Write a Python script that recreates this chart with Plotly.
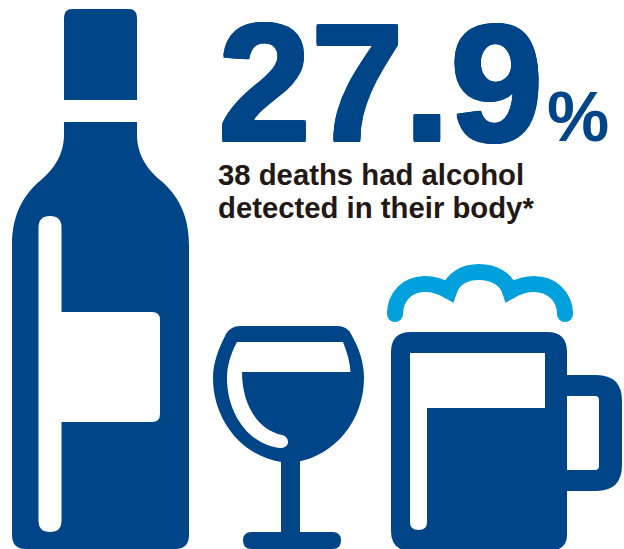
import plotly.graph_objects as go

# Figures quoted in the headline
share_percent = [27.9]
death_counts = [38]
caption_lines = ["{} deaths had alcohol", "detected in their body*"]

NAVY = "#004588"
SKY = "#00a0dc"
WHITE = "#ffffff"
INK = "#231815"
FONT = "Liberation Sans"


def rounded_rect(x0, y0, x1, y1, r):
    """Closed SVG path of a rectangle with quadratic corners."""
    return (
        f"M{x0 + r},{y0} L{x1 - r},{y0} Q{x1},{y0} {x1},{y0 + r} "
        f"L{x1},{y1 - r} Q{x1},{y1} {x1 - r},{y1} L{x0 + r},{y1} "
        f"Q{x0},{y1} {x0},{y1 - r} L{x0},{y0 + r} Q{x0},{y0} {x0 + r},{y0} Z"
    )


def filled(path, color=NAVY):
    return dict(type="path", path=path, fillcolor=color, line=dict(width=0),
                xref="x", yref="y", layer="above")


def dot(cx, cy, r, color):
    return dict(type="circle", x0=cx - r, x1=cx + r, y0=cy - r, y1=cy + r,
                fillcolor=color, line=dict(width=0), xref="x", yref="y", layer="above")


def heavier(px, color):
    """Text shadow that thickens glyphs while keeping their corners square."""
    return ", ".join(f"{dx * px}px {dy * px}px 0 {color}"
                     for dx, dy in [(1, 1), (-1, 1), (1, -1), (-1, -1), (1, 0), (-1, 0), (0, 1), (0, -1)])


shapes = []

# Bottle: cap, body, highlight and label
shapes.append(filled(
    "M72,9 L129,9 Q137,9 137,18 L137,100 L64,100 L64,18 Q64,9 72,9 Z"))
shapes.append(filled(
    "M64,122 L137,122 L137,135 C137,155 148,170 160,180 "
    "C178,195 189,215 189,245 L189,535 Q189,549 175,549 L26,549 "
    "Q12,549 12,535 L12,245 C12,215 23,195 41,180 C53,170 64,155 64,135 Z"))
shapes.append(filled(rounded_rect(38.5, 216, 61.5, 532, 11.5), WHITE))
shapes.append(filled(
    "M55,312 L152,312 Q160,312 160,320 L160,414 Q160,422 152,422 L55,422 Z", WHITE))

# Wine glass: bowl, stem, foot, then the empty part of the bowl
shapes.append(filled(
    "M240,326 L337,326 Q347,326 351,334 C359,348 364,362 364,378 "
    "C364,420 335,456 296,462 L281,462 C242,456 213,420 213,378 "
    "C213,362 219,348 226,334 Q231,326 240,326 Z"))
shapes.append(filled("M281,455 L300,455 L300,540 L281,540 Z"))
shapes.append(filled(rounded_rect(243, 532, 341, 549, 8.5)))
shapes.append(filled(
    "M237,342 L343,342 C347,352 350,362 350.5,372 L242,372 "
    "C242,405 258,430 282,435 C287,436 288,440 288,442 "
    "C288,446 284,448 280,448 C250,445 227,415 227,378 "
    "C227,367 230,355 237,342 Z", WHITE))

# Beer mug: handle, body, then the glass above the beer
shapes.append(filled(
    "M550,375 L596,375 Q622,375 622,401 L622,465 Q622,491 596,491 L550,491 Z"))
shapes.append(filled(
    "M560,396 L595,396 Q599,396 599,400 L599,466 Q599,470 595,470 L560,470 Z", WHITE))
shapes.append(filled(
    "M411,332 L547,332 Q567,332 567,352 L567,535 Q567,551 547,551 "
    "L411,551 Q391,551 391,531 L391,352 Q391,332 411,332 Z"))
shapes.append(filled(
    "M410,353 L545,353 L545,408 L427,408 L427,522 Q427,530 418.5,530 "
    "Q410,530 410,522 Z", WHITE))

# Foam: a single stroked outline with rounded stops and valleys
shapes.append(dict(
    type="path",
    path="M395,314 C395,296 408,284 425,284 C434,284 442,287 449,291 "
         "C453,279 464,272 479,272 C494,272 506,279 510,291 "
         "C517,287 525,284 534,284 C551,284 565,296 565,314",
    line=dict(color=SKY, width=16), fillcolor="rgba(0,0,0,0)",
    xref="x", yref="y", layer="above"))
for cx, cy in [(395, 314), (565, 314), (449, 291), (510, 291)]:
    shapes.append(dot(cx, cy, 8, SKY))

annotations = [
    dict(x=218, y=175.5, text=f"<b>{share_percent[0]}</b>", xanchor="left", yanchor="bottom",
         font=dict(family=FONT, size=167, color=NAVY, shadow=heavier(1.5, NAVY))),
    dict(x=546.5, y=156, text="<b>%</b>", xanchor="left", yanchor="bottom",
         font=dict(family=FONT, size=70, color=NAVY)),
    dict(x=218, y=174, text=f"<b>{caption_lines[0].format(death_counts[0])}</b>",
         xanchor="left", yanchor="middle",
         font=dict(family=FONT, size=29.3, color=INK)),
    dict(x=218, y=207, text=f"<b>{caption_lines[1]}</b>",
         xanchor="left", yanchor="middle",
         font=dict(family=FONT, size=29.3, color=INK)),
]
for a in annotations:
    a.update(xref="x", yref="y", showarrow=False, borderpad=0, borderwidth=0)

fig = go.Figure()
fig.update_layout(
    width=624, height=549, autosize=False,
    margin=dict(l=0, r=0, t=0, b=0),
    paper_bgcolor=WHITE, plot_bgcolor=WHITE,
    showlegend=False,
    xaxis=dict(range=[0, 624], visible=False, fixedrange=True),
    yaxis=dict(range=[549, 0], visible=False, fixedrange=True),
    shapes=shapes, annotations=annotations,
)
fig.write_html("out.html", config=dict(displayModeBar=False))
